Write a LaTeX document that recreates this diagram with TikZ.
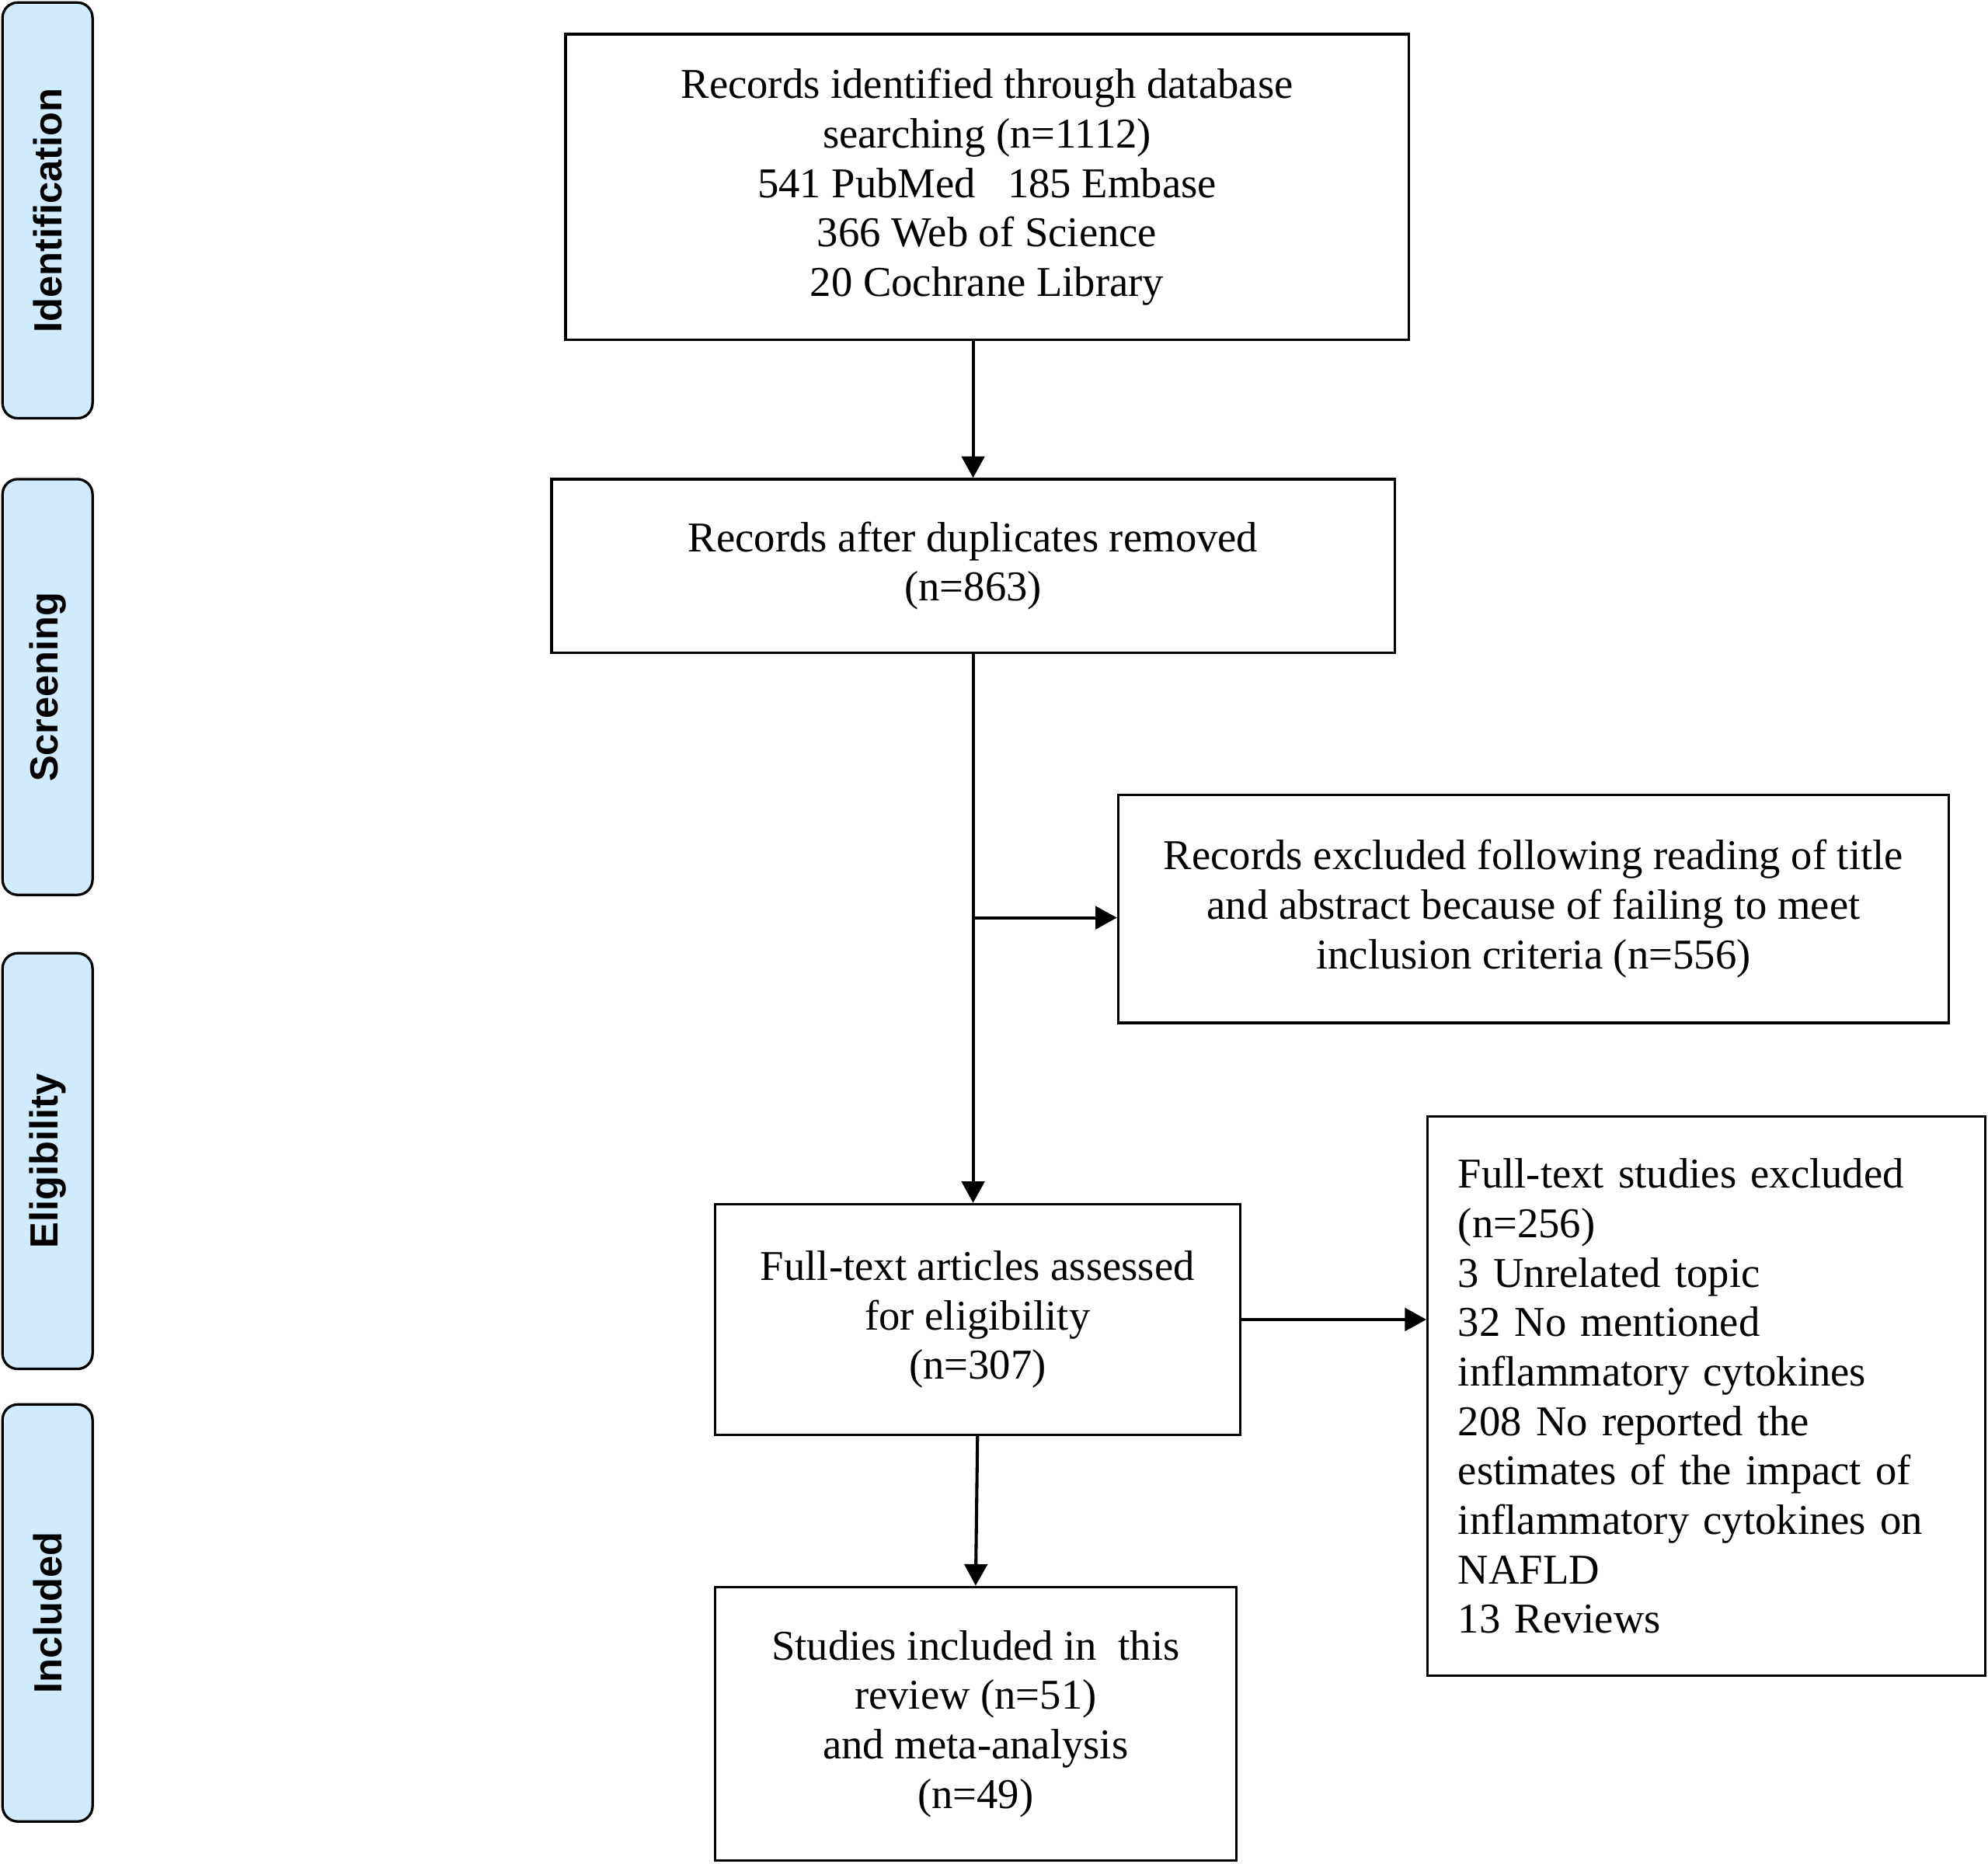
\documentclass[tikz,border=0pt]{standalone}
\usepackage{fontspec}
\setmainfont{Liberation Serif}
\newfontfamily\sidefont{Liberation Sans}
\usetikzlibrary{arrows.meta}
\definecolor{sideblue}{RGB}{207,235,253}
\begin{document}
\begin{tikzpicture}[x=1pt,y=-1pt,
  boxstyle/.style={draw=black, line width=2pt, fill=white, inner sep=0pt, align=center,
    font=\fontsize{33.5}{39}\selectfont},
  sidestyle/.style={draw=black, line width=2pt, fill=sideblue, rounded corners=12pt,
    inner sep=0pt, rotate=90, font=\sidefont\bfseries\fontsize{31}{36}\selectfont},
  arr/.style={line width=2.5pt, -{Triangle[length=17pt,width=18pt]}},
  ln/.style={line width=2.5pt}]
\useasboundingbox (0,0) rectangle (1568,1470);
% sidebars
\node[sidestyle, minimum width=328pt, minimum height=71pt] (s1) at (37.5,166) {Identification};
\node[sidestyle, minimum width=328pt, minimum height=71pt] (s2) at (37.5,542) {Screening};
\node[sidestyle, minimum width=328pt, minimum height=71pt] (s3) at (37.5,916) {Eligibility};
\node[sidestyle, minimum width=329pt, minimum height=71pt] (s4) at (37.5,1272.5) {Included};
% boxes
\node[boxstyle, minimum width=665pt, minimum height=241pt] (b1) at (778.5,147.5)
  {Records identified through database\\searching (n=1112)\\541 PubMed\hspace{0.75em}185 Embase\\366 Web of Science\\20 Cochrane Library};
\node[boxstyle, minimum width=665pt, minimum height=137pt] (b2) at (767.5,446.5)
  {Records after duplicates removed\\(n=863)};
\node[boxstyle, minimum width=655pt, minimum height=180pt] (b3) at (1209.5,717)
  {Records excluded following reading of title\\and abstract because of failing to meet\\inclusion criteria (n=556)};
\node[boxstyle, minimum width=414pt, minimum height=182pt] (b4) at (771,1041)
  {Full-text articles assessed\\for eligibility\\(n=307)};
\node[boxstyle, align=left, text width=392pt, inner xsep=24pt, minimum height=441pt] (b5) at (1346,1101.5)
  {Full-text studies excluded\\(n=256)\\3 Unrelated topic\\32 No mentioned\\inflammatory cytokines\\208 No reported the\\estimates of the impact of\\inflammatory cytokines on\\NAFLD\\13 Reviews};
\node[boxstyle, minimum width=411pt, minimum height=216pt] (b6) at (769.5,1360)
  {Studies included in\ \ this\\review (n=51)\\and meta-analysis\\(n=49)};
% connectors
\draw[arr] (b2.north |- b1.south) -- (b2.north);
\draw[arr] (b2.south) -- (b2.south |- b4.north);
\coordinate (br) at (b2.south |- 0,724);
\draw[arr] (br) -- (br -| b3.west);
\draw[arr] (b4.east) -- (b4.east -| b5.west);
\draw[arr] (b4.south) -- (b6.north);
\end{tikzpicture}
\end{document}
